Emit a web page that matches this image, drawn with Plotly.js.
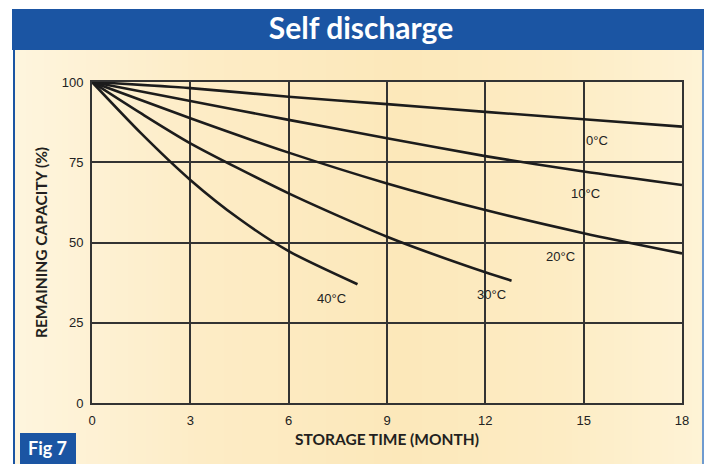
<!DOCTYPE html>
<html>
<head>
<meta charset="utf-8">
<script src="https://cdn.plot.ly/plotly-3.0.1.min.js"></script>
<style>html,body{margin:0;padding:0;background:#fff;}#chart{width:711px;height:464px;}</style>
</head>
<body>
<div id="chart"></div>
<script>
// ---- data ----
const months0  = [0, 3, 6, 9, 12, 15, 18];
const cap0C    = [100, 98.1, 95.4, 93.1, 90.7, 88.4, 86.1];
const months10 = [0, 3, 6, 9, 12, 15, 18];
const cap10C   = [100, 94.1, 88.2, 82.5, 76.9, 72.1, 67.9];
const months20 = [0, 3, 6, 9, 12, 15, 18];
const cap20C   = [100, 88.7, 78.0, 68.4, 60.1, 52.9, 46.6];
const months30 = [0, 1.5, 3, 6, 9, 12, 12.8];
const cap30C   = [100, 90.2, 80.9, 65.3, 51.8, 40.7, 38.1];
const months40 = [0, 1.5, 3, 4.5, 6, 8.1];
const cap40C   = [100, 84.0, 69.5, 57.3, 47.3, 37.0];
const seriesNames = ['0°C', '10°C', '20°C', '30°C', '40°C'];
const xTicks = [0, 3, 6, 9, 12, 15, 18];
const yTicks = [0, 25, 50, 75, 100];

// ---- layout helpers (pixel -> paper) ----
const W = 711, H = 464, L = 92, R = 682, T = 82, B = 403;
const px = v => (v - L) / (R - L);
const py = v => (B - v) / (B - T);
const BLUE = '#1b55a3';
const INK = '#1c1c1c';

const xs = [months0, months10, months20, months30, months40];
const ys = [cap0C, cap10C, cap20C, cap30C, cap40C];
const traces = xs.map((x, i) => ({
  x: x, y: ys[i], name: seriesNames[i], type: 'scatter', mode: 'lines',
  line: {color: INK, width: 2.6, shape: 'spline', smoothing: 0.7},
  hoverinfo: 'x+y+name'
}));

const tickFontY = {family: 'Liberation Sans Narrow, Liberation Sans, Arial, sans-serif', size: 13, color: '#222'};
const tickFontX = {family: 'Liberation Sans, Arial, sans-serif', size: 13, color: '#222'};
const labelFont = {family: 'Liberation Sans, Arial, sans-serif', size: 13, color: '#222'};
const labelPos = [[15.4, 81.8], [15.05, 65.3], [14.3, 45.7], [12.2, 33.9], [7.3, 32.6]];

// soft warm background gradient (decoration): vertical strips
function lerp(a, b, t) { return Math.round(a + (b - a) * t); }
const bgStops = [[14, [254, 245, 222]], [200, [253, 236, 198]], [400, [252, 232, 186]], [560, [253, 236, 196]], [704, [254, 243, 214]]];
function bgAt(x) {
  for (let i = 0; i < bgStops.length - 1; i++) {
    const [x0, c0] = bgStops[i], [x1, c1] = bgStops[i + 1];
    if (x <= x1) {
      const t = (x - x0) / (x1 - x0);
      return `rgb(${lerp(c0[0], c1[0], t)},${lerp(c0[1], c1[1], t)},${lerp(c0[2], c1[2], t)})`;
    }
  }
  return 'rgb(254,243,214)';
}
const bgShapes = [];
for (let x = 14; x < 704; x += 6) {
  bgShapes.push({type: 'rect', xref: 'paper', yref: 'paper', layer: 'below',
    x0: px(x), x1: px(Math.min(x + 6.6, 704)), y0: py(470), y1: py(50),
    fillcolor: bgAt(x + 3), line: {width: 0}});
}

const GRID = '#333333';
const layout = {
  width: W, height: H,
  margin: {l: L, r: W - R, t: T, b: H - B, pad: 0},
  paper_bgcolor: '#ffffff',
  plot_bgcolor: 'rgba(0,0,0,0)',
  showlegend: false,
  title: {
    text: '<b>Self discharge</b>',
    font: {family: 'Lato, Open Sans, sans-serif', size: 30, color: '#ffffff'},
    x: 361 / W, xanchor: 'center', y: 1 - 28 / H, yanchor: 'middle'
  },
  xaxis: {
    range: [0, 18], tickvals: xTicks, ticktext: xTicks.map(String),
    showgrid: true, gridcolor: GRID, gridwidth: 2,
    showline: true, linecolor: GRID, linewidth: 2, mirror: true,
    zeroline: false, ticks: '', tickfont: tickFontX, ticklabelstandoff: 4,
    title: {text: '<b>STORAGE TIME (MONTH)</b>', standoff: 8,
      font: {family: 'Lato, Open Sans, sans-serif', size: 15.5, color: '#231f20'}},
    fixedrange: true
  },
  yaxis: {
    range: [0, 100], tickvals: yTicks, ticktext: yTicks.map(String),
    showgrid: true, gridcolor: GRID, gridwidth: 2,
    showline: true, linecolor: GRID, linewidth: 2, mirror: true,
    zeroline: false, ticks: '', tickfont: tickFontY, ticklabelstandoff: 4,
    title: {text: '<b>REMAINING CAPACITY (%)</b>', standoff: 10,
      font: {family: 'Lato, Open Sans, sans-serif', size: 15.5, color: '#231f20'}},
    fixedrange: true
  },
  shapes: bgShapes.concat([
    // title bar
    {type: 'rect', xref: 'paper', yref: 'paper', layer: 'below',
     x0: px(12), x1: px(704), y0: py(50), y1: py(9),
     fillcolor: BLUE, line: {width: 0}},
    // left border
    {type: 'line', xref: 'paper', yref: 'paper', layer: 'below',
     x0: px(14), x1: px(14), y0: py(50), y1: py(470),
     line: {color: BLUE, width: 2}},
    // right border
    {type: 'line', xref: 'paper', yref: 'paper', layer: 'below',
     x0: px(703), x1: px(703), y0: py(50), y1: py(470),
     line: {color: '#6f9bd0', width: 2}},
    // Fig 7 box
    {type: 'rect', xref: 'paper', yref: 'paper', layer: 'below',
     x0: px(20), x1: px(76), y0: py(470), y1: py(433),
     fillcolor: BLUE, line: {width: 0}}
  ]),
  annotations: seriesNames.map((n, i) => ({
    x: labelPos[i][0], y: labelPos[i][1], xref: 'x', yref: 'y',
    text: n, showarrow: false, font: labelFont, xanchor: 'center', yanchor: 'middle'
  })).concat([{
    x: px(47), y: py(448), xref: 'paper', yref: 'paper',
    text: '<b>Fig 7</b>', showarrow: false,
    font: {family: 'Lato, Open Sans, sans-serif', size: 18, color: '#ffffff'},
    xanchor: 'center', yanchor: 'middle'
  }])
};

Plotly.newPlot('chart', traces, layout, {displayModeBar: false, staticPlot: true});
</script>
</body>
</html>
